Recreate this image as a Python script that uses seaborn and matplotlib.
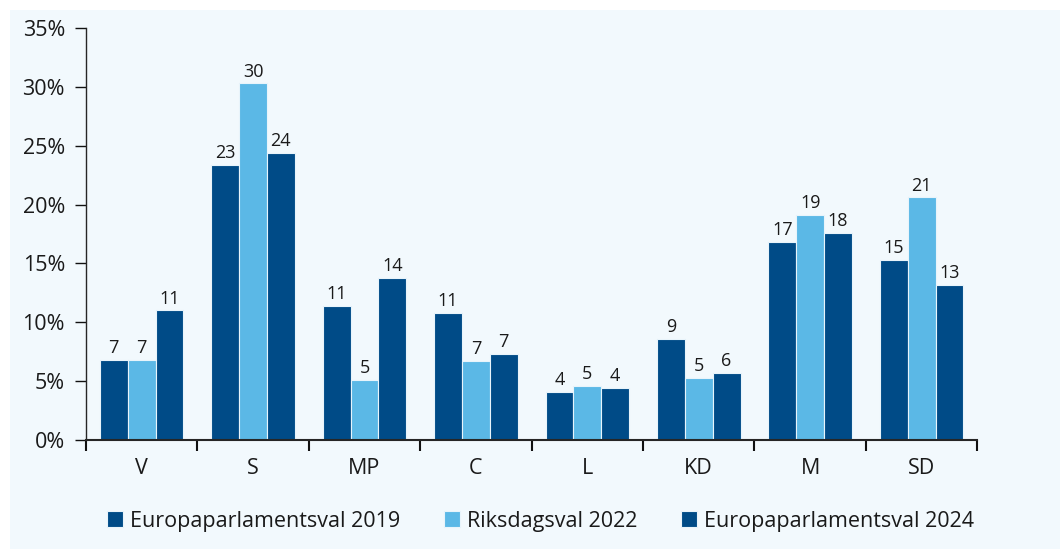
import pandas as pd
import numpy as np
import matplotlib.pyplot as plt
import matplotlib.patches as mpatches
import seaborn as sns

parties = ["V", "S", "MP", "C", "L", "KD", "M", "SD"]
ep2019 = [6.8, 23.4, 11.4, 10.8, 4.1, 8.6, 16.8, 15.3]
rd2022 = [6.8, 30.3, 5.1, 6.7, 4.6, 5.3, 19.1, 20.6]
ep2024 = [11.0, 24.4, 13.8, 7.3, 4.4, 5.7, 17.6, 13.2]
series = ["Europaparlamentsval 2019", "Riksdagsval 2022", "Europaparlamentsval 2024"]
colors = ["#004b87", "#5bb8e6", "#004b87"]

df = pd.DataFrame({
    "parti": parties * 3,
    "val": [series[0]] * 8 + [series[1]] * 8 + [series[2]] * 8,
    "andel": ep2019 + rd2022 + ep2024,
})

sns.set_style("ticks")
plt.rcParams['font.family'] = ['Open Sans', 'DejaVu Sans']
bg = "#f2f9fd"
txt = "#1a1a1a"

fig = plt.figure(figsize=(10.6, 5.49), dpi=100)
fig.patches.append(mpatches.Rectangle((10 / 1060, 0), 1, 1 - 10 / 549, transform=fig.transFigure,
                                      facecolor=bg, edgecolor="none", zorder=-10))
ax = fig.add_axes([0.081, 0.1986, 0.841, 0.7504])
ax.set_facecolor("none")

sns.barplot(data=df, x="parti", y="andel", hue="val", hue_order=series, palette=colors,
            saturation=1, width=0.75, edgecolor="#e8f4fb", linewidth=0.8, ax=ax)

for cont, vals in zip(ax.containers, [ep2019, rd2022, ep2024]):
    ax.bar_label(cont, labels=[f"{v:.0f}" for v in vals], padding=2, fontsize=13, color=txt)

ax.set_ylim(0, 35)
ax.set_xlim(-0.5, 7.5)
ax.set_yticks(range(0, 36, 5))
ax.set_yticklabels([f"{v}%" for v in range(0, 36, 5)], fontsize=15.5, color=txt)
ax.set_xticks(range(8))
ax.set_xticklabels(parties, fontsize=15.5, color=txt)
ax.tick_params(axis="x", length=0, pad=13)
ax.set_xticks(np.arange(-0.5, 8, 1), minor=True)
ax.tick_params(axis="x", which="minor", length=8, width=1.5, color="#111111")
ax.tick_params(axis="y", length=8, width=1, color="#111111", pad=7)
ax.set_xlabel("")
ax.set_ylabel("")
for s in ["top", "right"]:
    ax.spines[s].set_visible(False)
ax.spines["left"].set_linewidth(1)
ax.spines["bottom"].set_linewidth(1.5)

handles, labels = ax.get_legend_handles_labels()
ax.legend(handles, labels, loc="upper center", bbox_to_anchor=(0.51, -0.125), ncol=3,
          frameon=False, fontsize=15.5, handlelength=0.75, handleheight=0.75,
          handletextpad=0.35, columnspacing=2.0, labelcolor=txt)

fig.savefig("out.png", dpi=100)
